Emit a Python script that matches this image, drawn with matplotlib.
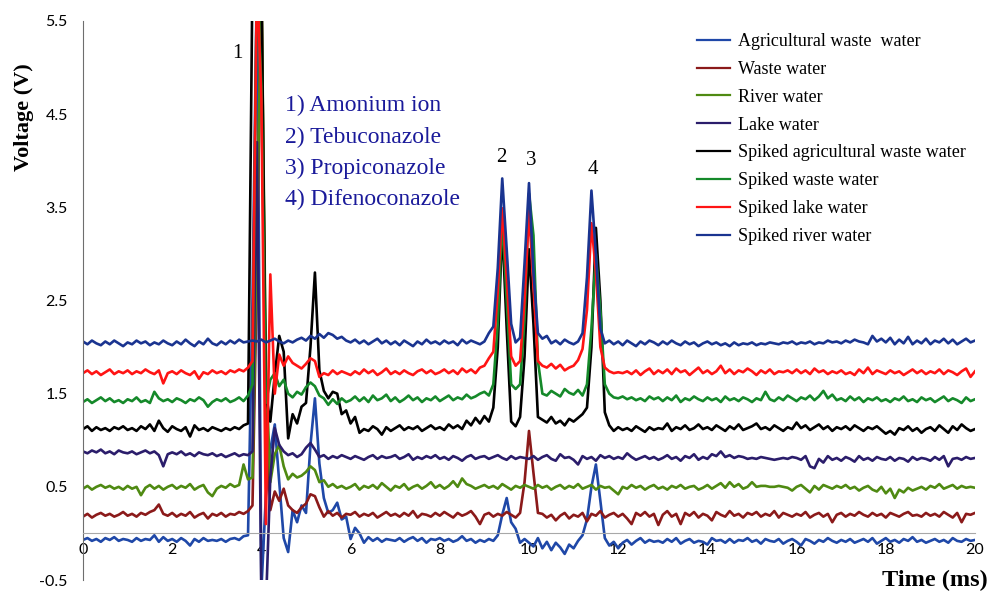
import numpy as np
import matplotlib
matplotlib.use("Agg")
import matplotlib.pyplot as plt

# electropherogram sampled every 0.1 ms, 0-20 ms
time_ms = np.linspace(0, 20, 201)

# detector signal in hundredths of a volt, one row per millisecond
agricultural = [
    -7, -5, -8, -6, -9, -5, -7, -4, -8, -6,
    -7, -9, -5, -8, -6, -7, -2, -9, -4, -8,
    -6, -9, -5, -8, -13, -6, -9, -5, -8, -7,
    -8, -6, -9, -6, -5, -7, -3, -2, 250, 600,
    -60, 40, 90, 117, 55, -5, -20, 25, 12, 30,
    22, 95, 145, 75, 38, 22, 25, 33, 15, 18,
    -6, 6, 0, -10, -4, -8, -5, -9, -6, -7,
    -8, -5, -9, -6, -4, -8, -5, -10, -6, -7,
    -5, -8, -6, -9, -7, -3, -8, -6, -10, -7,
    -9, -6, -8, -2, 20, 38, 12, 5, -10, -6,
    -10, -14, -5, -16, -9, -18, -10, -15, -22, -12,
    -16, -8, -2, 15, 50, 74, 35, -5, -13, -9,
    -16, -10, -7, -12, -8, -5, -10, -7, -9, -8,
    -10, -6, -9, -5, -11, -8, -6, -10, -8, -9,
    -12, -5, -8, -7, -10, -6, -10, -7, -8, -5,
    -9, -7, -11, -6, -8, -9, -6, -11, -8, -6,
    -9, -13, -6, -8, -11, -7, -9, -5, -8, -10,
    -7, -9, -6, -10, -8, -6, -9, -5, -11, -8,
    -5, -9, -7, -10, -6, -8, -4, -9, -7, -10,
    -8, -6, -9, -7, -10, -5, -8, -9, -6, -8,
    -7,
]
waste = [
    18, 21, 17, 20, 22, 19, 21, 18, 20, 23,
    19, 21, 18, 22, 20, 23, 25, 31, 21, 19,
    22, 18, 21, 19, 23, 17, 20, 22, 16, 21,
    19, 22, 18, 21, 20, 23, 21, 24, 30, 280,
    600, 120, 25, 45, 35, 48, 30, 25, 22, 28,
    32, 42, 40, 28, 18, 24, 19, 22, 17, 21,
    20, 23, 18, 21, 19, 22, 17, 20, 23, 19,
    21, 18, 22, 19, 24, 17, 21, 20, 18, 22,
    19, 23, 20, 17, 22, 19, 21, 24, 18, 10,
    20, 22, 18, 21, 19, 23, 20, 17, 22, 55,
    110, 65, 22, 21, 17, 20, 14, 19, 22, 16,
    20, 18, 22, 13, 21, 19, 24, 17, 20, 22,
    18, 21, 16, 10, 22, 19, 23, 18, 21, 9,
    20, 24, 18, 21, 10, 22, 19, 23, 17, 21,
    19, 14, 23, 20, 18, 24, 19, 21, 17, 22,
    20, 23, 18, 21, 19, 24, 17, 22, 20, 18,
    21, 19, 23, 17, 20, 22, 18, 21, 12, 20,
    22, 18, 21, 19, 23, 20, 18, 22, 19, 21,
    17, 22, 20, 18, 21, 23, 19, 20, 18, 22,
    19, 21, 18, 23, 20, 17, 22, 12, 21, 20,
    22,
]
river = [
    48, 51, 47, 50, 52, 49, 51, 48, 50, 47,
    51, 48, 50, 41, 49, 52, 48, 51, 47, 50,
    52, 48, 51, 49, 53, 47, 50, 52, 44, 40,
    48, 51, 49, 53, 50, 52, 74, 58, 60, 320,
    600, 180, 55, 85, 95, 72, 58, 64, 60, 62,
    66, 72, 68, 55, 57, 50, 53, 49, 51, 48,
    50, 53, 47, 51, 49, 52, 48, 54, 50, 46,
    51, 49, 53, 47, 50, 52, 48, 51, 55, 49,
    52, 48, 51, 56, 50, 59, 53, 51, 48, 50,
    52, 49, 51, 48, 53, 50, 47, 51, 49, 52,
    50, 48, 52, 49, 51, 47, 50, 52, 48, 51,
    49, 53, 48, 50, 52, 47, 51, 49, 50, 46,
    42, 50, 48, 52, 49, 51, 47, 50, 52, 48,
    50, 47, 51, 49, 52, 48, 50, 51, 47, 49,
    52, 48, 51, 54, 49, 55, 50, 53, 48, 50,
    55, 50, 51, 51, 50, 50, 51, 50, 49, 46,
    50, 52, 48, 44, 51, 47, 52, 50, 48, 51,
    49, 52, 48, 50, 46, 49, 51, 47, 45, 50,
    43, 48, 38, 47, 44, 49, 46, 48, 50, 47,
    51, 49, 53, 48, 50, 52, 48, 51, 49, 50,
    49,
]
lake = [
    88, 86, 89, 87, 90, 86, 88, 85, 89, 87,
    86, 88, 85, 87, 89, 86, 88, 84, 72, 85,
    87, 85, 88, 84, 86, 83, 87, 85, 84, 86,
    83, 85, 82, 84, 86, 83, 85, 84, 88, 420,
    -80, -80, 60, 113, 95, 88, 84, 86, 82, 85,
    92, 97, 90, 82, 84, 80, 83, 81, 84, 82,
    80, 83, 81, 79, 82, 84, 80, 83, 81, 82,
    84, 80, 82, 85, 79, 82, 80, 83, 81, 84,
    80, 82, 79, 83, 81, 78, 82, 84, 80, 82,
    83, 80, 82, 84, 81, 79, 83, 80, 82, 81,
    80, 83, 79, 82, 84, 80, 78, 85, 81, 82,
    79, 74, 83, 80, 82, 78, 84, 81, 83, 80,
    82, 80, 86, 82, 79, 81, 83, 80, 82, 79,
    81, 84, 80, 82, 78, 83, 81, 85, 79, 82,
    80, 85, 83, 88, 82, 84, 81, 83, 82, 80,
    81, 80, 82, 81, 80, 79, 80, 81, 80, 82,
    81, 79, 83, 72, 70, 80, 76, 83, 79, 81,
    78, 82, 80, 77, 83, 79, 81, 78, 82, 80,
    79, 82, 78, 81, 80, 77, 82, 79, 81, 80,
    78, 82, 79, 83, 72, 80, 81, 79, 82, 80,
    81,
]
spiked_agricultural = [
    112, 115, 110, 114, 111, 113, 110, 114, 112, 115,
    111, 113, 110, 115, 112, 117, 110, 121, 113, 109,
    115, 112, 110, 114, 104, 116, 111, 113, 110, 114,
    112, 110, 113, 111, 114, 112, 116, 118, 600, 600,
    600, 150, 120, 170, 212, 195, 102, 128, 118, 136,
    140, 200, 280, 175, 153, 145, 152, 150, 128, 132,
    118, 125, 108, 112, 110, 115, 112, 106, 114, 110,
    113, 116, 111, 114, 112, 115, 110, 113, 116, 112,
    114, 111, 117, 113, 116, 112, 121, 116, 124, 118,
    126, 120, 135, 200, 330, 220, 120, 115, 125, 190,
    305, 225, 125, 122, 119, 125, 118, 121, 116, 123,
    120, 124, 128, 135, 200, 328, 250, 130, 116, 110,
    114, 111, 113, 110, 115, 112, 109, 114, 111, 113,
    112, 118, 110, 114, 112, 116, 111, 113, 117, 112,
    114, 111, 116, 113, 110, 115, 112, 117, 111, 113,
    115, 118, 112, 114, 111, 116, 113, 110, 114, 112,
    119, 113, 116, 111, 114, 117, 112, 115, 110, 114,
    112, 115, 111, 116, 113, 110, 114, 112, 115, 111,
    107, 110, 106, 113, 111, 115, 110, 113, 108, 112,
    114, 110, 116, 112, 108, 115, 111, 117, 113, 110,
    112,
]
spiked_waste = [
    141, 144, 140, 143, 146, 142, 145, 141, 143, 140,
    144, 142, 146, 141, 143, 140, 152, 145, 142, 144,
    141, 145, 143, 140, 144, 142, 146, 143, 136, 141,
    144, 142, 145, 141, 143, 146, 142, 148, 160, 600,
    480, 140, 165, 172, 158, 165, 150, 146, 152, 149,
    157, 162, 158, 148, 145, 138, 144, 139, 145, 141,
    143, 147, 142, 146, 141, 148, 143, 145, 149, 142,
    146, 141, 144, 148, 143, 146, 141, 145, 143, 147,
    142, 145, 148, 143, 146, 144, 149, 145, 147, 150,
    152, 148, 160, 225, 340, 250, 160, 155, 160, 230,
    365, 320, 185, 150, 148, 153, 150, 147, 155, 151,
    149, 154, 148, 160, 220, 300, 240, 160, 150, 146,
    145, 147, 144, 146, 143, 145, 142, 147, 144, 146,
    142, 146, 143, 148, 141, 145, 143, 147, 144, 142,
    146, 143, 145, 141, 147, 143, 145, 142, 146, 144,
    141, 145, 143, 152, 144, 142, 146, 143, 148, 145,
    142, 146, 144, 148, 143, 147, 153, 145, 149, 143,
    145, 142, 147, 143, 146, 141, 145, 143, 146, 142,
    144, 141, 145, 143, 147, 142, 144, 141, 146, 143,
    145, 141, 144, 147, 142, 145, 143, 140, 146, 142,
    144,
]
spiked_lake = [
    172, 175, 171, 174, 170, 173, 176, 171, 174, 172,
    175, 171, 174, 172, 176, 173, 171, 175, 161, 172,
    174, 171, 175, 172, 170, 174, 166, 173, 171, 175,
    172, 174, 171, 175, 173, 176, 174, 178, 185, 600,
    465, 10, 278, 150, 192, 180, 190, 183, 180, 177,
    182, 188, 185, 168, 172, 170, 175, 171, 174, 172,
    170, 174, 171, 176, 172, 175, 170, 173, 177, 171,
    174, 171, 175, 172, 170, 174, 176, 172, 175, 171,
    173, 176, 172, 175, 171, 177, 173, 176, 172, 178,
    180, 188, 195, 260, 349, 275, 190, 180, 185, 250,
    346, 265, 185, 180, 178, 182, 177, 181, 175, 178,
    180, 186, 198, 240, 333, 280, 200, 178, 174, 172,
    173, 172, 174, 171, 175, 170, 174, 177, 171, 175,
    172, 176, 171, 177, 173, 175, 170, 174, 178, 172,
    175, 171, 174, 180, 172, 176, 171, 175, 173, 177,
    174, 170, 175, 172, 176, 171, 174, 173, 175, 172,
    176, 172, 175, 171, 177, 173, 175, 171, 174, 172,
    175, 171, 173, 170, 176, 172, 178, 171, 175, 173,
    171, 175, 172, 174, 170, 173, 176, 172, 175, 171,
    174, 172, 176, 171, 175, 173, 170, 174, 177, 168,
    174,
]
spiked_river = [
    206, 203, 207, 204, 202, 206, 203, 207, 204, 201,
    205, 203, 207, 204, 206, 202, 205, 203, 207, 204,
    202, 206, 203, 208, 204, 201, 206, 203, 209, 204,
    202, 206, 203, 207, 204, 208, 205, 206, 207, 206,
    208, 205, 207, 209, 206, 204, 207, 205, 208, 210,
    207, 212, 209, 214, 210, 215, 213, 209, 211, 207,
    205, 208, 204, 207, 203, 206, 209, 204, 207, 203,
    206, 202, 207, 204, 201, 206, 203, 208, 204, 206,
    203, 207, 204, 206, 202, 208, 204, 207, 205, 203,
    206, 215, 222, 285, 381, 305, 225, 205, 210, 290,
    376, 280, 215, 209, 212, 204, 207, 203, 208, 205,
    203, 206, 215, 275, 368, 300, 220, 204, 207, 203,
    206, 202, 207, 204, 201, 206, 203, 207, 205, 202,
    206, 203, 207, 204, 202, 206, 203, 205, 201, 204,
    206, 203, 205, 202, 204, 201, 205, 202, 204, 203,
    205, 202, 204, 203, 205, 204, 203, 205, 204, 206,
    203, 205, 204, 206, 203, 205, 204, 207, 205, 206,
    204, 207, 205, 208, 206, 205, 203, 212, 206, 209,
    205, 210, 203, 208, 204, 211, 203, 207, 204, 209,
    203, 207, 205, 209, 204, 208, 203, 206, 209, 205,
    207,
]

labels = [
    "Agricultural waste  water",
    "Waste water",
    "River water",
    "Lake water",
    "Spiked agricultural waste water",
    "Spiked waste water",
    "Spiked lake water",
    "Spiked river water",
]
series = [agricultural, waste, river, lake,
          spiked_agricultural, spiked_waste, spiked_lake, spiked_river]
colors = ["#1f48a8", "#8b1a1a", "#4f8a12", "#2b1d6b",
          "#000000", "#15892a", "#ff1414", "#1a3490"]

peak_names = ["1) Amonium ion", "2) Tebuconazole", "3) Propiconazole", "4) Difenoconazole"]
peak_marks = [("1", 3.45, 5.15), ("2", 9.37, 4.03), ("3", 10.05, 4.0), ("4", 11.43, 3.91)]

serif = "Liberation Serif"

fig = plt.figure(figsize=(9.93, 5.94), dpi=100)
ax = fig.add_axes([83 / 993, 14 / 594, 892 / 993, 559 / 594])

for label, values, color in zip(labels, series, colors):
    ax.plot(time_ms, np.asarray(values) / 100.0, color=color, lw=1.9, label=label)

ax.set_xlim(0, 20)
ax.set_ylim(-0.5, 5.5)
ax.set_xticks(np.arange(0, 21, 2))
ax.set_yticks([-0.5, 0.5, 1.5, 2.5, 3.5, 4.5, 5.5])
ax.set_yticklabels(["-0.5", "0.5", "1.5", "2.5", "3.5", "4.5", "5.5"])
ax.spines["top"].set_visible(False)
ax.spines["right"].set_visible(False)
ax.spines["bottom"].set_position(("data", 0))
ax.spines["bottom"].set_color("#a8a8a8")
ax.spines["left"].set_color("#6e6e6e")
ax.tick_params(axis="x", length=0, pad=7, labelsize=11.5, labelfontfamily="Lato")
ax.tick_params(axis="y", length=0, pad=11, labelsize=11.5, labelfontfamily="Lato")

for i, name in enumerate(peak_names):
    ax.text(4.53, 4.59 - i * 0.335, name, color="#1a1a9a", fontsize=17,
            family=serif, va="center", ha="left")
for mark, x, y in peak_marks:
    ax.text(x, y, mark, fontsize=15, family=serif, ha="center", va="center")

leg = ax.legend(loc="upper left", bbox_to_anchor=(688 / 993, 1 - 24 / 594),
                bbox_transform=fig.transFigure, frameon=False, borderpad=0,
                prop={"family": serif, "size": 13}, handlelength=1.85,
                handletextpad=0.4, labelspacing=0.6)
for line in leg.get_lines():
    line.set_linewidth(1.6)

fig.text(24 / 993, 1 - 117 / 594, "Voltage (V)", rotation=90, family=serif,
         fontsize=16, fontweight="bold", ha="center", va="center")
fig.text(935 / 993, 1 - 580 / 594, "Time (ms)", family=serif,
         fontsize=17.5, fontweight="bold", ha="center", va="center")

fig.savefig("out.png", dpi=100)
